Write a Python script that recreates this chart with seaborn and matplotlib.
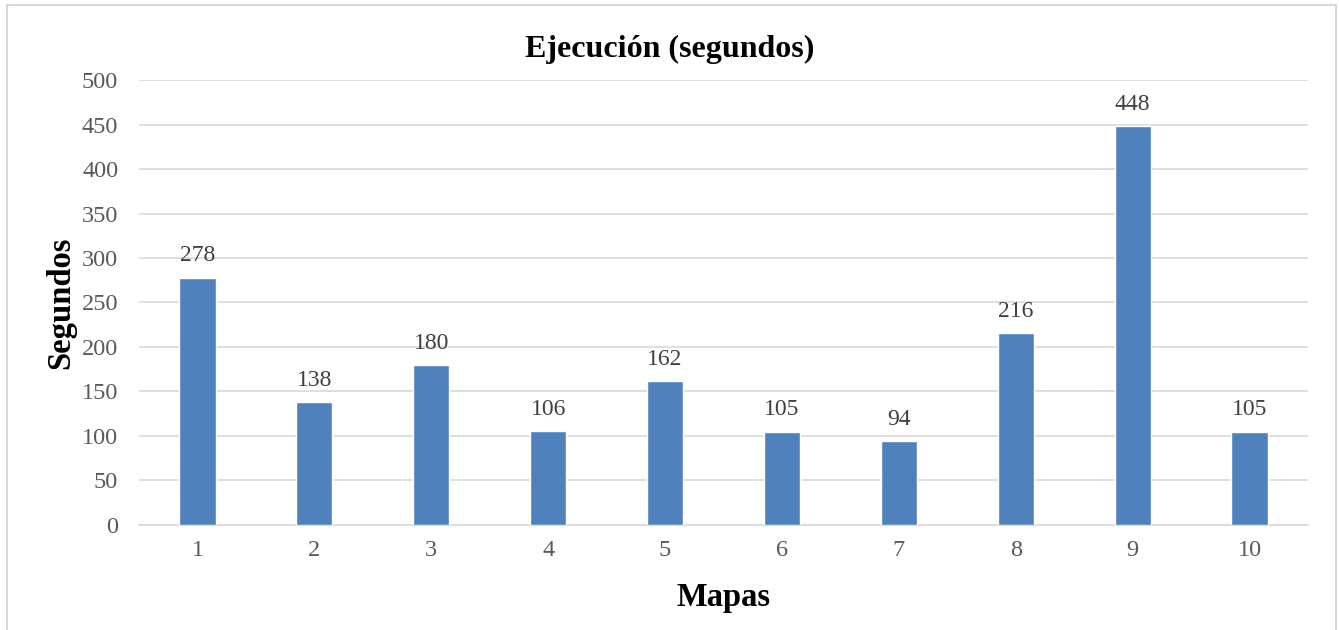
import matplotlib
matplotlib.use("Agg")
import matplotlib.pyplot as plt
import seaborn as sns
import pandas as pd
from matplotlib.patches import Rectangle

mapas = ["1", "2", "3", "4", "5", "6", "7", "8", "9", "10"]
segundos = [278, 138, 180, 106, 162, 105, 94, 216, 448, 105]
y_ticks = [0, 50, 100, 150, 200, 250, 300, 350, 400, 450, 500]

sns.set_theme(style="white")
plt.rcParams["font.family"] = ["Liberation Serif", "DejaVu Serif"]

df = pd.DataFrame({"Mapas": mapas, "Segundos": segundos})

fig = plt.figure(figsize=(13.39, 6.30), dpi=100)
ax = fig.add_axes([0.1038, 0.1667, 0.8731, 0.7063])

sns.barplot(data=df, x="Mapas", y="Segundos", color="#4F81BD", saturation=1,
            width=0.31, ax=ax, zorder=3)

ax.set_ylim(0, 500)
ax.set_yticks(y_ticks)
ax.set_xlim(-0.5, len(mapas) - 0.5)
ax.yaxis.grid(True, color="#D9D9D9", linewidth=1.2, zorder=0)
ax.set_axisbelow(True)
for s in ["top", "right", "left"]:
    ax.spines[s].set_visible(False)
ax.spines["bottom"].set_color("#D9D9D9")
ax.spines["bottom"].set_linewidth(1.2)
ax.tick_params(axis="both", length=0, labelsize=17.5, colors="#595959")
ax.tick_params(axis="x", pad=11)
ax.tick_params(axis="y", pad=15)

for i, v in enumerate(segundos):
    ax.annotate(str(v), (i, v), xytext=(0, 8), textcoords="offset points",
                ha="center", va="bottom", fontsize=17, color="#404040")

fig.suptitle("Ejecución (segundos)", x=0.5, y=0.944, fontsize=23,
             fontweight="bold", color="black")
ax.set_xlabel("Mapas", fontsize=23.5, fontweight="bold", color="black", labelpad=15)
ax.set_ylabel("Segundos", fontsize=23.5, fontweight="bold", color="black", labelpad=4)

fig.patches.append(Rectangle((0.0055, -0.01), 0.992, 1.002, transform=fig.transFigure,
                             fill=False, edgecolor="#D9D9D9", linewidth=1.5))

fig.savefig("out.png", dpi=100)
